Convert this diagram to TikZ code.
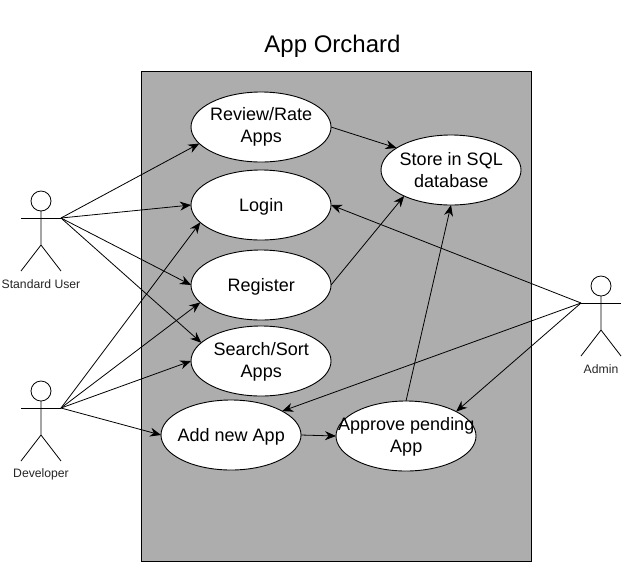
\documentclass[tikz,border=0pt]{standalone}
\usepackage{fontspec}
\setmainfont{Liberation Sans}
\usetikzlibrary{shapes.geometric,arrows.meta}
\newcommand\uctext[2][-1.6pt]{\makebox[0pt]{\hspace{0.5pt}\raisebox{#1}[\height][\depth]{\fontsize{18}{22}\selectfont\begin{tabular}{@{}c@{}}#2\end{tabular}}}}
\tikzset{
  usecase/.style={ellipse,draw=black,fill=white,line width=0.9pt,minimum width=140pt,minimum height=70pt,inner sep=0pt,outer sep=0pt},
  assoc/.style={draw=black,line width=0.8pt,-{Stealth[length=11pt,width=9pt]}},
  actorline/.style={draw=black,line width=0.8pt},
  actorlabel/.style={font=\fontsize{12.2}{14}\selectfont,text=black!85,inner sep=0pt},
  system/.style={draw=black,fill=sysgray,line width=0.9pt},
}
\definecolor{sysgray}{HTML}{ADADAD}
\begin{document}
\begin{tikzpicture}[x=1pt,y=-1pt]
\useasboundingbox (0,0) rectangle (623,566);
\fill[white] (0,0) rectangle (623,566);
\node[font=\fontsize{24}{28}\selectfont,inner sep=0pt] (title) at (332.5,46.5) {App Orchard};
\path[system] (141.5,71.5) rectangle (531.5,561);
\node[usecase] (review) at (261,127) {\uctext[0.4pt]{Review/Rate\\Apps}};
\node[usecase] (login) at (261,205) {\uctext{Login}};
\node[usecase] (register) at (261,285) {\uctext{Register}};
\node[usecase] (search) at (261,361) {\uctext[-0.6pt]{Search/Sort\\Apps}};
\node[usecase] (add) at (231,435) {\uctext{Add new App}};
\node[usecase] (approve) at (406,436) {\uctext[-0.6pt]{Approve pending\\App}};
\node[usecase] (store) at (451,170) {\uctext{Store in SQL\\database}};
% actors
\foreach \n/\x/\y in {user/41/218,dev/41/408,admin/601/303}{
  \draw[actorline] (\x,\y-17) circle (10);
  \draw[actorline] (\x,\y-7) -- (\x,\y+27) -- (\x-20,\y+53);
  \draw[actorline] (\x,\y+27) -- (\x+20,\y+53);
  \coordinate (\n L) at (\x-20,\y);
  \coordinate (\n R) at (\x+20,\y);
  \draw[actorline] (\n L) -- (\n R);
}
\node[actorlabel] (userlabel) at (41,284) {Standard User};
\node[actorlabel] (devlabel) at (41,474) {Developer};
\node[actorlabel] (adminlabel) at (601,369) {Admin};
% connectors
\draw[assoc] (userR) -- (review.195);
\draw[assoc] (userR) -- (login.west);
\draw[assoc] (userR) -- (register.west);
\draw[assoc] (userR) -- (search.163);
\draw[assoc] (devR) -- (login.196);
\draw[assoc] (devR) -- (register.196);
\draw[assoc] (devR) -- (search.west);
\draw[assoc] (devR) -- (add.west);
\draw[assoc] (adminL) -- (login.east);
\draw[assoc] (adminL) -- (add.25);
\draw[assoc] (adminL) -- (approve.26);
\draw[assoc] (review.east) -- (store.158);
\draw[assoc] (register.east) -- (store.209);
\draw[assoc] (approve.north) -- (store.south);
\draw[assoc] (add.east) -- (approve.west);
\end{tikzpicture}
\end{document}
